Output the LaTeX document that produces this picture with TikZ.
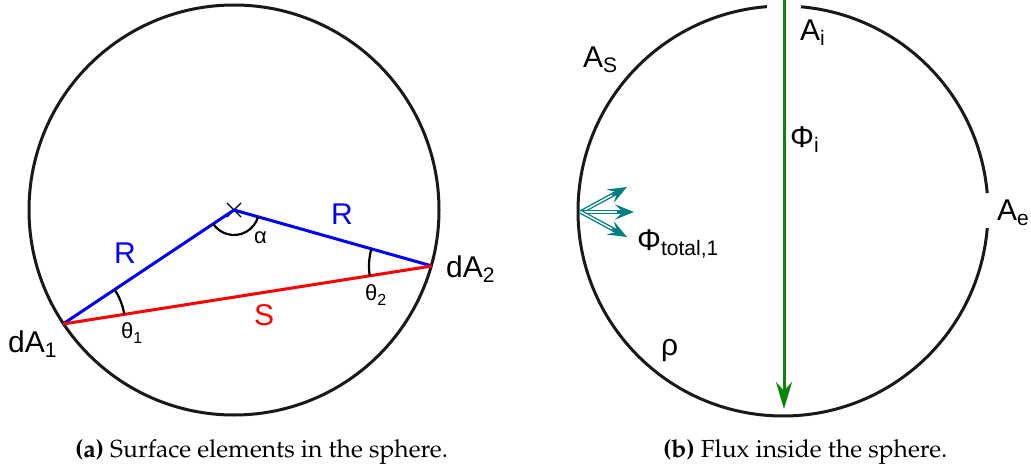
\documentclass[tikz,border=0pt]{standalone}
\usepackage[T1]{fontenc}
\usepackage{fontspec}
\setmainfont{Liberation Sans}
\usetikzlibrary{arrows.meta, shapes.misc}
\definecolor{radiusblue}{HTML}{0000FF}
\definecolor{chordred}{HTML}{FF0000}
\definecolor{fluxgreen}{HTML}{0A850A}
\definecolor{totalteal}{HTML}{008080}
\newcommand\captfont{\fontencoding{T1}\fontfamily{ppl}\selectfont}
\newcommand\lowidx[2][21]{\raisebox{-5pt}{\fontsize{#1}{#1}\selectfont #2}}
\tikzset{
  sphere/.style={line width=3pt, black!90},
  radiusline/.style={line width=3pt, radiusblue},
  chordline/.style={line width=3pt, chordred},
  anglearc/.style={line width=2.2pt, black},
  biglabel/.style={inner sep=0pt, anchor=base west, font=\fontsize{30}{32}\selectfont},
  smalllabel/.style={inner sep=0pt, anchor=base west, font=\fontsize{22}{24}\selectfont},
  fluxarrow/.style={-{Stealth[length=27pt, width=16pt]}, line width=3pt, fluxgreen},
  totalarrow/.style={-{Stealth[length=19pt, width=15pt, inset=8pt]}, totalteal, line width=4.2pt,
                     postaction={draw=white, line width=1.5pt, -, shorten >=17pt}},
  captext/.style={inner sep=0pt, anchor=base west, font=\fontsize{24.7}{26}\captfont},
}

\begin{document}
\begin{tikzpicture}[x=1pt, y=-1pt]
  \useasboundingbox (0,0) rectangle (1031,471);
  % (a) surface elements
  \coordinate (c1) at (234,210);
  \coordinate (dA1) at (63,324);
  \coordinate (dA2) at (432,266);
  \draw[sphere] (c1) circle[radius=205];
  \node[draw, cross out, minimum size=13pt, inner sep=0pt, line width=1.1pt] (c1mark) at (c1) {};
  \draw[radiusline] (c1mark.center) -- (dA1);
  \draw[radiusline] (c1mark.center) -- (dA2);
  \draw[chordline] (dA1) -- (dA2);
  \draw[anglearc] ([shift={(15.79:25)}]c1) arc[start angle=15.79, end angle=146.31, radius=25];
  \draw[anglearc] ([shift={(-33.69:62)}]dA1) arc[start angle=-33.69, end angle=-8.93, radius=62];
  \draw[anglearc] ([shift={(171.07:63)}]dA2) arc[start angle=171.07, end angle=195.79, radius=63];
  \node[biglabel, radiusblue] (lblR1) at (114,263) {R};
  \node[biglabel, radiusblue] (lblR2) at (331,224) {R};
  \node[biglabel, chordred] (lblS) at (254,325) {S};
  \node[smalllabel] (lblalpha) at (254,243) {α};
  \node[smalllabel] (lbltheta1) at (121,338) {θ\lowidx[16]{1}};
  \node[smalllabel] (lbltheta2) at (365,300) {θ\lowidx[16]{2}};
  \node[biglabel] (lbldA1) at (8,352) {dA\lowidx{1}};
  \node[biglabel] (lbldA2) at (446,277) {dA\lowidx{2}};
  \node[captext] (capa) at (75,457) {\textbf{(a)} Surface elements in the sphere.};
  % (b) flux
  \coordinate (c2) at (783,211);
  \draw[sphere] ([shift={(4.8:205)}]c2) arc[start angle=4.8, end angle=265.5, radius=205];
  \draw[sphere] ([shift={(275:205)}]c2) arc[start angle=275, end angle=355, radius=205];
  \coordinate (fluxtop) at (784,0);
  \coordinate (fluxend) at (784,409);
  \draw[fluxarrow] (fluxtop) -- (fluxend);
  \coordinate (src) at (581,212);
  \coordinate (tupper) at (627,187);
  \coordinate (tmid) at (634,212);
  \coordinate (tlower) at (627,237);
  \draw[totalarrow] (src) -- (tupper);
  \draw[totalarrow] (src) -- (tmid);
  \draw[totalarrow] (src) -- (tlower);
  \node[biglabel] (lblAi) at (800,40) {A\lowidx{i}};
  \node[biglabel] (lblAS) at (583,67) {A\lowidx{S}};
  \node[biglabel] (lblPhii) at (790,147) {Φ\lowidx{i}};
  \node[biglabel] (lblAe) at (997,220) {A\lowidx{e}};
  \node[biglabel] (lblPhit) at (637,250) {Φ\lowidx{total,1}};
  \node[biglabel] (lblrho) at (661,355) {ρ};
  \node[captext] (capb) at (663,457) {\textbf{(b)} Flux inside the sphere.};
\end{tikzpicture}
\end{document}
